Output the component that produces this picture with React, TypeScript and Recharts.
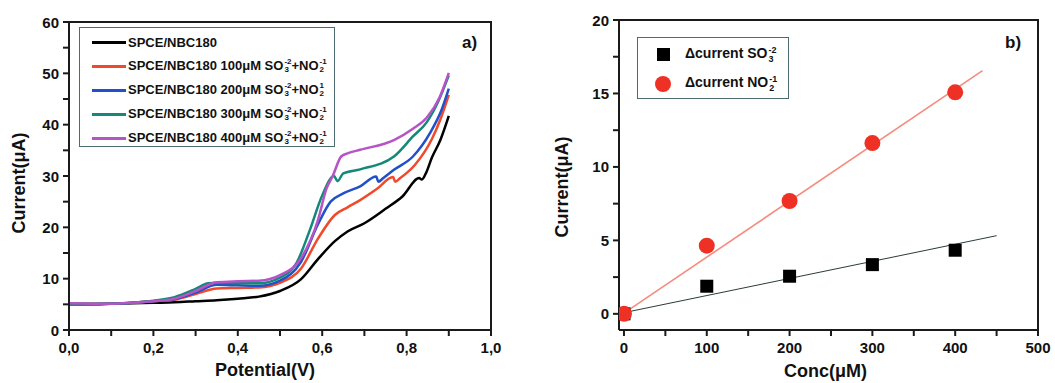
import React from 'react';
import {
  LineChart,
  Line,
  ComposedChart,
  Scatter,
  XAxis,
  YAxis,
  Legend,
} from 'recharts';

// panel a) — potential (V) vs current (µA), one array of [V, I] pairs per curve
const blank: [number, number][] = [
  [0, 5.0], [0.05, 5.0], [0.1, 5.1], [0.15, 5.2], [0.2, 5.3], [0.25, 5.4], [0.3, 5.6],
  [0.35, 5.8], [0.4, 6.1], [0.45, 6.5], [0.5, 7.6], [0.55, 9.9], [0.59, 13.8], [0.63, 17.3],
  [0.66, 19.2], [0.7, 20.8], [0.75, 23.6], [0.79, 26.0], [0.83, 29.6], [0.836, 29.3],
  [0.845, 30.4], [0.86, 33.6], [0.88, 37.0], [0.9, 41.7],
];
const c100: [number, number][] = [
  [0, 5.1], [0.1, 5.1], [0.15, 5.3], [0.2, 5.6], [0.25, 5.9], [0.3, 7.0], [0.35, 8.1],
  [0.4, 8.2], [0.45, 8.3], [0.5, 9.2], [0.55, 12.0], [0.59, 17.8], [0.63, 22.4], [0.66, 23.9],
  [0.69, 25.3], [0.73, 27.5], [0.768, 29.8], [0.773, 28.9], [0.785, 29.6], [0.82, 32.2],
  [0.86, 37.2], [0.88, 41.0], [0.9, 45.8],
];
const c200: [number, number][] = [
  [0, 5.0], [0.1, 5.1], [0.15, 5.3], [0.2, 5.6], [0.25, 6.0], [0.3, 7.3], [0.35, 8.8],
  [0.4, 8.7], [0.45, 8.6], [0.5, 9.6], [0.55, 13.3], [0.59, 20.6], [0.62, 25.0], [0.65, 26.6],
  [0.69, 28.0], [0.728, 29.9], [0.733, 28.9], [0.745, 29.6], [0.77, 31.2], [0.815, 33.8],
  [0.855, 38.3], [0.883, 42.9], [0.9, 47.0],
];
const c300: [number, number][] = [
  [0, 5.1], [0.1, 5.1], [0.15, 5.3], [0.2, 5.7], [0.25, 6.4], [0.3, 8.0], [0.33, 9.1],
  [0.35, 9.2], [0.4, 9.1], [0.45, 9.1], [0.5, 10.2], [0.54, 13.2], [0.57, 19.3], [0.6, 26.2],
  [0.628, 30.0], [0.636, 29.0], [0.65, 30.5], [0.69, 31.3], [0.77, 33.8], [0.815, 37.7],
  [0.848, 40.5], [0.875, 44.5], [0.9, 49.6],
];
const c400: [number, number][] = [
  [0, 5.2], [0.1, 5.1], [0.15, 5.3], [0.2, 5.6], [0.25, 6.1], [0.3, 7.6], [0.35, 9.3],
  [0.4, 9.5], [0.45, 9.6], [0.5, 10.7], [0.55, 14.0], [0.59, 21.4], [0.61, 27.5],
  [0.625, 30.0], [0.645, 33.8], [0.66, 34.4], [0.69, 35.1], [0.77, 37.0], [0.815, 39.2],
  [0.848, 41.4], [0.878, 45.3], [0.9, 50.1],
];
const potentialTicks = [0, 0.1, 0.2, 0.3, 0.4, 0.5, 0.6, 0.7, 0.8, 0.9, 1];
const currentTicksA = [0, 5, 10, 15, 20, 25, 30, 35, 40, 45, 50, 55, 60];

// panel b) — calibration points and fitted lines
const conc = [0, 100, 200, 300, 400];
const so3Current = [0, 1.88, 2.56, 3.35, 4.33];
const no2Current = [0, 4.64, 7.68, 11.62, 15.08];
const so3FitConc = [0, 450];
const so3Fit = [0.08, 5.32];
const no2FitConc = [0, 433];
const no2Fit = [0.05, 16.55];
const concTicks = [0, 50, 100, 150, 200, 250, 300, 350, 400, 450, 500];
const currentTicksB = [0, 2.5, 5, 7.5, 10, 12.5, 15, 17.5, 20];

const FONT = '"Liberation Sans", Arial, sans-serif';
const AXIS = '#1a1a1a';
const TICK = 6;

const toPts = (arr: [number, number][]) => arr.map(([v, i]) => ({ v, i }));
const zip = (xs: number[], ys: number[]) => xs.map((x, k) => ({ x, y: ys[k] }));

const isStep = (v: number, step: number) =>
  Math.abs(v / step - Math.round(v / step)) < 1e-6;

// tick label only on major ticks; the marks come from recharts' tickLine
const yTick = (step: number, fmt: (v: number) => string) => (props: any) => {
  const { x, y, payload } = props;
  if (!isStep(payload.value, step)) return <g />;
  return (
    <text x={x - 4} y={y} textAnchor="end" dominantBaseline="central"
      fontFamily={FONT} fontWeight="bold" fontSize={15} fill="#111">
      {fmt(payload.value)}
    </text>
  );
};

const xTick = (step: number, fmt: (v: number) => string) => (props: any) => {
  const { x, y, payload } = props;
  if (!isStep(payload.value, step)) return <g />;
  return (
    <text x={x} y={y + 17} textAnchor="middle"
      fontFamily={FONT} fontWeight="bold" fontSize={15} fill="#111">
      {fmt(payload.value)}
    </text>
  );
};

const Ion = ({ base, sub, sup, size = 8 }: { base: string; sub: string; sup: string; size?: number }) => (
  <span style={{ whiteSpace: 'nowrap' }}>
    {base}
    <span style={{
      display: 'inline-block', verticalAlign: 'middle', fontSize: size,
      lineHeight: `${size}px`, textAlign: 'left', marginLeft: 1,
    }}>
      <span style={{ display: 'block' }}>{sup}</span>
      <span style={{ display: 'block' }}>{sub}</span>
    </span>
  </span>
);

const seriesA = [
  { name: 'blank', color: '#000000', pts: blank, label: null as null | string, noSup: '-1' },
  { name: 'c100', color: '#f04a2c', pts: c100, label: '100', noSup: '-1' },
  { name: 'c200', color: '#2150c8', pts: c200, label: '200', noSup: '1' },
  { name: 'c300', color: '#14897a', pts: c300, label: '300', noSup: '-1' },
  { name: 'c400', color: '#b653c6', pts: c400, label: '400', noSup: '-1' },
];

const LegendA = () => (
  <div style={{
    border: '1px solid #4d6a70', background: '#fff', width: 256, height: 120,
    fontFamily: FONT, fontWeight: 'bold', fontSize: 13, color: '#111', boxSizing: 'border-box',
    paddingTop: 2,
  }}>
    {seriesA.map((s) => (
      <div key={s.name} style={{ display: 'flex', alignItems: 'center', height: 24, paddingLeft: 12 }}>
        <span style={{ display: 'inline-block', width: 34, height: 3, background: s.color, marginRight: 2 }} />
        {s.label === null ? (
          <span>SPCE/NBC180</span>
        ) : (
          <span>
            SPCE/NBC180 {s.label}μM <Ion base="SO" sub="3" sup="-2" />+<Ion base="NO" sub="2" sup={s.noSup} />
          </span>
        )}
      </div>
    ))}
  </div>
);

const LegendB = () => (
  <div style={{
    border: '1px solid #4d6a70', background: '#fff', width: 152, height: 62,
    fontFamily: FONT, fontWeight: 'bold', fontSize: 14, color: '#111', boxSizing: 'border-box',
    paddingTop: 2,
  }}>
    <div style={{ display: 'flex', alignItems: 'center', height: 29 }}>
      <span style={{ display: 'inline-block', width: 13, height: 13, background: '#000', marginLeft: 19, marginRight: 15 }} />
      <span>Δcurrent <Ion base="SO" sub="3" sup="-2" size={9} /></span>
    </div>
    <div style={{ display: 'flex', alignItems: 'center', height: 29 }}>
      <span style={{ display: 'inline-block', width: 16, height: 16, borderRadius: 8, background: '#ee3124', marginLeft: 17, marginRight: 14 }} />
      <span>Δcurrent <Ion base="NO" sub="2" sup="-1" size={9} /></span>
    </div>
  </div>
);

const axisTitle = (text: string, dx: number, dy: number, vertical: boolean) => (props: any) => {
  const { viewBox } = props;
  const { x, y, width, height } = viewBox;
  if (vertical) {
    const cx = x + dx;
    const cy = y + height / 2 + dy;
    return (
      <text x={cx} y={cy} transform={`rotate(-90 ${cx} ${cy})`} textAnchor="middle"
        dominantBaseline="central" fontFamily={FONT} fontWeight="bold" fontSize={18} fill="#111">
        {text}
      </text>
    );
  }
  return (
    <text x={x + width / 2 + dx} y={y + dy} textAnchor="middle"
      fontFamily={FONT} fontWeight="bold" fontSize={18} fill="#111">
      {text}
    </text>
  );
};

const PanelLabel = ({ text, left }: { text: string; left: number }) => (
  <div style={{
    position: 'absolute', left, top: 33, fontFamily: FONT, fontWeight: 'bold',
    fontSize: 17, color: '#111',
  }}>
    {text}
  </div>
);

// top and right edges of the plot box
const Frame = ({ left, top, width, height }: { left: number; top: number; width: number; height: number }) => (
  <div style={{
    position: 'absolute', left, top, width, height, boxSizing: 'border-box',
    borderTop: `2px solid ${AXIS}`, borderRight: `2px solid ${AXIS}`, pointerEvents: 'none',
  }} />
);

const SquareDot = (props: any) => {
  const { cx, cy } = props;
  return <rect x={cx - 6.5} y={cy - 6.5} width={13} height={13} fill="#000" />;
};
const CircleDot = (props: any) => {
  const { cx, cy } = props;
  return <circle cx={cx} cy={cy} r={8} fill="#ee3124" />;
};

const axisLineStyle = { stroke: AXIS, strokeWidth: 2 };
const tickLineStyle = { stroke: AXIS, strokeWidth: 2 };

export default function App() {
  return (
    <div style={{ position: 'absolute', left: 0, top: 0, width: 1055, height: 383, background: '#fff' }}>
      <div style={{ position: 'absolute', left: 0, top: 0, width: 530, height: 383 }}>
        <LineChart width={530} height={383} margin={{ top: 22, right: 39, left: 19, bottom: 13 }}>
          <XAxis
            type="number" dataKey="v" domain={[0, 1]} ticks={potentialTicks} interval={0}
            height={40} tickSize={TICK} tickMargin={0} tickLine={tickLineStyle}
            axisLine={axisLineStyle}
            tick={xTick(0.2, (v) => v.toFixed(1).replace('.', ','))}
            label={{ content: axisTitle('Potential(V)', -15, 46, false) }}
          />
          <YAxis
            type="number" domain={[0, 60]} ticks={currentTicksA} interval={0}
            width={50} tickSize={TICK} tickMargin={0} tickLine={tickLineStyle}
            axisLine={axisLineStyle}
            tick={yTick(10, (v) => String(v))}
            label={{ content: axisTitle('Current(μA)', 0, 7, true) }}
          />
          {seriesA.map((s) => (
            <Line
              key={s.name}
              data={toPts(s.pts)}
              dataKey="i"
              type="monotone"
              stroke={s.color}
              strokeWidth={2.5}
              dot={false}
              isAnimationActive={false}
            />
          ))}
          <Legend
            layout="vertical" align="center" verticalAlign="middle"
            wrapperStyle={{ left: 79, top: 27, width: 256, height: 120 }}
            content={() => <LegendA />}
          />
        </LineChart>
        <Frame left={68} top={21} width={424} height={310} />
        <PanelLabel text="a)" left={462} />
      </div>

      <div style={{ position: 'absolute', left: 530, top: 0, width: 525, height: 383 }}>
        <ComposedChart width={525} height={383} margin={{ top: 20, right: 17, left: 39, bottom: 13 }}>
          <XAxis
            type="number" dataKey="x" domain={[-6, 500]} ticks={concTicks} interval={0}
            allowDataOverflow height={40} tickSize={TICK} tickMargin={0} tickLine={tickLineStyle}
            axisLine={axisLineStyle}
            tick={xTick(100, (v) => String(v))}
            label={{ content: axisTitle('Conc(μM)', -3, 47, false) }}
          />
          <YAxis
            type="number" domain={[-1.1, 20]} ticks={currentTicksB} interval={0}
            allowDataOverflow width={50} tickSize={TICK} tickMargin={0} tickLine={tickLineStyle}
            axisLine={axisLineStyle}
            tick={yTick(5, (v) => String(v))}
            label={{ content: axisTitle('Current(μA)', -7, 12, true) }}
          />
          <Line data={zip(no2FitConc, no2Fit)} dataKey="y" type="linear" stroke="#f58b7f"
            strokeWidth={1.6} dot={false} isAnimationActive={false} />
          <Line data={zip(so3FitConc, so3Fit)} dataKey="y" type="linear" stroke="#2b3a3c"
            strokeWidth={1} dot={false} isAnimationActive={false} />
          <Scatter data={zip(conc, so3Current)} dataKey="y" shape={SquareDot} isAnimationActive={false} />
          <Scatter data={zip(conc, no2Current)} dataKey="y" shape={CircleDot} isAnimationActive={false} />
          <Legend
            layout="vertical" align="center" verticalAlign="middle"
            wrapperStyle={{ left: 107, top: 37, width: 152, height: 62 }}
            content={() => <LegendB />}
          />
        </ComposedChart>
        <Frame left={88} top={19} width={421} height={312} />
        <PanelLabel text="b)" left={475} />
      </div>
    </div>
  );
}
